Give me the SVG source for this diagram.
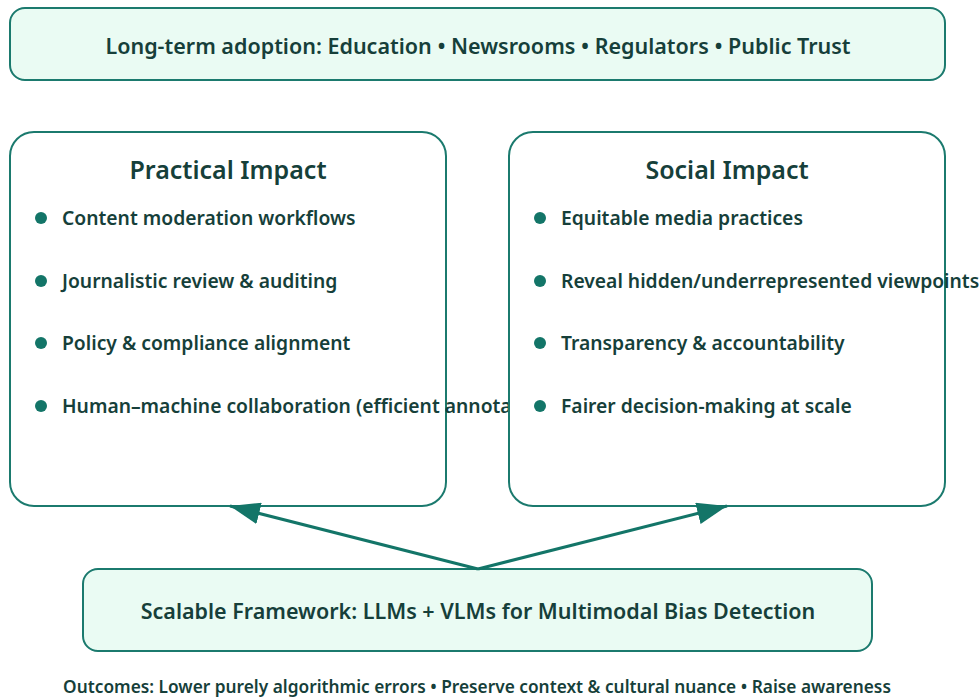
<svg xmlns="http://www.w3.org/2000/svg" width="979" height="698" viewBox="0 0 979 698">
<defs>
<style>
.box{stroke:#1b7a6e;stroke-width:2}
.hl{fill:#eafbf3}
.pl{fill:#ffffff}
text{font-family:"Noto Sans","Open Sans","Liberation Sans",sans-serif;font-weight:600;fill:#163f3a}
.t{font-size:21.5px}
.h{font-size:25px}
.b{font-size:19.3px}
.o{font-size:17.3px}
.dot{fill:#137568}
.conn{stroke:#137568;stroke-width:3;fill:none}
</style>
<marker id="arr" viewBox="0 0 30 22" refX="30" refY="11" markerWidth="30" markerHeight="22" markerUnits="userSpaceOnUse" orient="auto">
<path d="M0,0 L30,11 L0,22 z" fill="#137568"/>
</marker>
</defs>
<rect width="979" height="698" fill="#ffffff"/>
<g id="top">
<rect class="box hl" x="10" y="8" width="935" height="72" rx="15"/>
<text class="t" x="478" y="54" text-anchor="middle">Long-term adoption: Education • Newsrooms • Regulators • Public Trust</text>
</g>
<g id="practical">
<rect class="box pl" x="10" y="132" width="436" height="374" rx="24"/>
<text class="h" x="228" y="179" text-anchor="middle">Practical Impact</text>
<circle class="dot" cx="41" cy="218" r="6"/>
<text class="b" x="62" y="225">Content moderation workflows</text>
<circle class="dot" cx="41" cy="281" r="6"/>
<text class="b" x="62" y="288">Journalistic review &amp; auditing</text>
<circle class="dot" cx="41" cy="343" r="6"/>
<text class="b" x="62" y="350">Policy &amp; compliance alignment</text>
<circle class="dot" cx="41" cy="406" r="6"/>
<text class="b" x="62" y="413">Human–machine collaboration (efficient annotation)</text>
</g>
<g id="social">
<rect class="box pl" x="509" y="132" width="436" height="374" rx="24"/>
<text class="h" x="727" y="179" text-anchor="middle">Social Impact</text>
<circle class="dot" cx="540" cy="218" r="6"/>
<text class="b" x="561" y="225">Equitable media practices</text>
<circle class="dot" cx="540" cy="281" r="6"/>
<text class="b" x="561" y="288">Reveal hidden/underrepresented viewpoints</text>
<circle class="dot" cx="540" cy="343" r="6"/>
<text class="b" x="561" y="350">Transparency &amp; accountability</text>
<circle class="dot" cx="540" cy="406" r="6"/>
<text class="b" x="561" y="413">Fairer decision-making at scale</text>
</g>
<g id="framework">
<rect class="box hl" x="83" y="569" width="789" height="82" rx="15"/>
<text class="t" x="478" y="619" text-anchor="middle">Scalable Framework: LLMs + VLMs for Multimodal Bias Detection</text>
</g>
<g id="connectors">
<line class="conn" x1="478" y1="569" x2="230" y2="506" marker-end="url(#arr)"/>
<line class="conn" x1="478" y1="569" x2="727" y2="506" marker-end="url(#arr)"/>
</g>
<g id="outcomes">
<text class="o" x="477" y="693" text-anchor="middle">Outcomes: Lower purely algorithmic errors • Preserve context &amp; cultural nuance • Raise awareness</text>
</g>
</svg>
